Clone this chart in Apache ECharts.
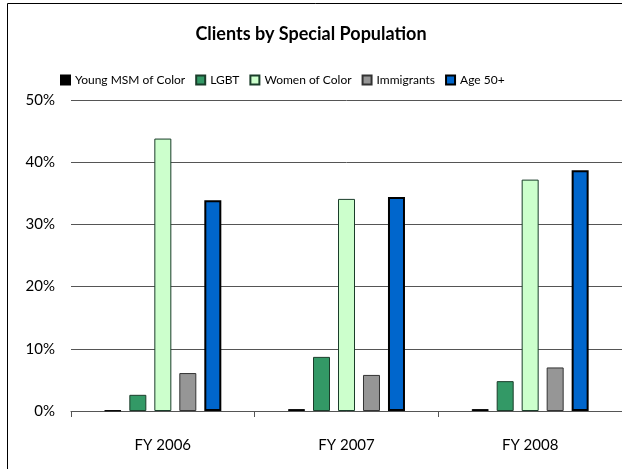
<!DOCTYPE html>
<html><head><meta charset="utf-8">
<script src="https://cdn.jsdelivr.net/npm/echarts@6/dist/echarts.min.js"></script>
<style>html,body{margin:0;padding:0;background:#fff}#c{width:622px;height:469px}</style>
</head><body><div id="c"></div>
<script>
var categories = ['FY 2006', 'FY 2007', 'FY 2008'];
var seriesNames = ['Young MSM of Color', 'LGBT', 'Women of Color', 'Immigrants', 'Age 50+'];
var youngMSM = [0.1, 0.3, 0.3];
var lgbt = [2.6, 8.7, 4.8];
var womenOfColor = [43.8, 34.1, 37.2];
var immigrants = [6.1, 5.8, 7.0];
var age50 = [33.9, 34.4, 38.7];
var yTicks = [0, 10, 20, 30, 40, 50];

var values = [youngMSM, lgbt, womenOfColor, immigrants, age50];
var fills = ['#000000', '#339966', '#ccffcc', '#969696', '#0066cc'];
var borders = ['#000000', '#1a3d2a', '#1a3d2a', '#333333', '#000000'];
var bw = [1, 1, 1, 1, 2];
var FONT = 'Lato, "Open Sans", sans-serif';

var chart = echarts.init(document.getElementById('c'));
chart.setOption({
  animation: false,
  backgroundColor: '#fff',
  textStyle: { fontFamily: FONT },
  title: {
    text: 'Clients by Special Population',
    left: 'center', top: 20,
    textStyle: { fontFamily: FONT, fontWeight: 'bold', fontSize: 18, color: '#000' }
  },
  legend: {
    data: seriesNames,
    top: 69, left: 55,
    itemWidth: 9, itemHeight: 9, itemGap: 10,
    textStyle: { fontFamily: FONT, fontSize: 12, color: '#000' },
    icon: 'rect'
  },
  graphic: [{
    type: 'rect', shape: { x: 7.5, y: 3.5, width: 800, height: 800 },
    style: { fill: 'none', stroke: '#000', lineWidth: 1 }, silent: true, z: 100
  }],
  grid: { left: 71, right: -3, top: 100, bottom: 58, containLabel: false },
  xAxis: {
    type: 'category', data: categories,
    axisLine: { lineStyle: { color: '#555', width: 1 } },
    axisTick: { show: true, length: 6, lineStyle: { color: '#555' } },
    axisLabel: { fontFamily: FONT, fontSize: 15, color: '#000', margin: 27 }
  },
  yAxis: {
    type: 'value', min: yTicks[0], max: yTicks[yTicks.length - 1], interval: 10,
    axisLine: { show: false }, axisTick: { show: false },
    splitLine: { lineStyle: { color: '#555', width: 1 } },
    axisLabel: { fontFamily: FONT, fontSize: 15, color: '#000', margin: 16, formatter: '{value}%' }
  },
  series: seriesNames.map(function (n, i) {
    return {
      name: n, type: 'bar', data: values[i],
      barWidth: 17, barGap: '47%',
      itemStyle: { color: fills[i], borderColor: borders[i], borderWidth: bw[i] }
    };
  })
});
</script></body></html>
